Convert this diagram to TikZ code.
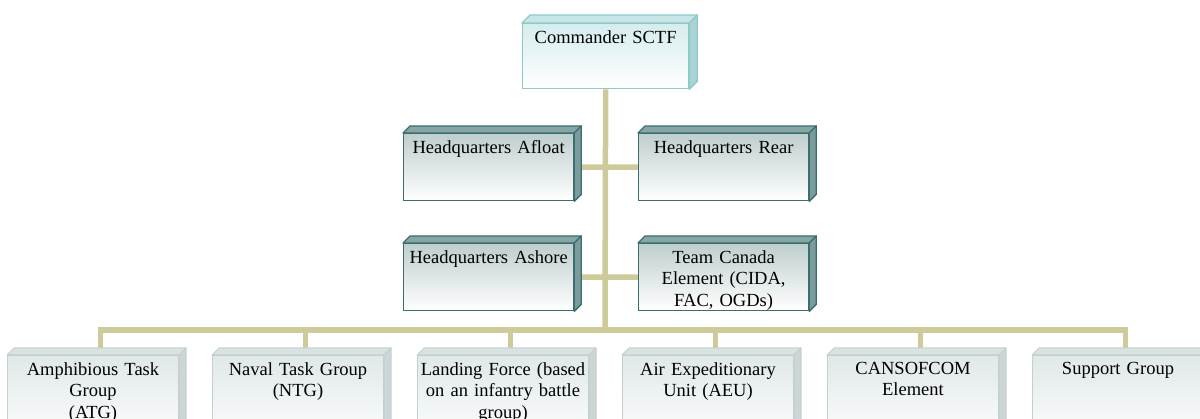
\documentclass[tikz,border=0pt]{standalone}
\usepackage{fontspec}
\setmainfont{Liberation Serif}
\usetikzlibrary{backgrounds}

\definecolor{khaki}{HTML}{CCCB99}
\definecolor{cmdline}{HTML}{8FCACA}
\definecolor{cmdface}{HTML}{C9E6E6}
\definecolor{cmdside}{HTML}{ABD3D3}
\definecolor{cmdtop}{HTML}{D6EDED}
\definecolor{midline}{HTML}{3C6E6E}
\definecolor{midface}{HTML}{86A5A5}
\definecolor{midside}{HTML}{7A9C9C}
\definecolor{midtop}{HTML}{BFCECE}
\definecolor{lowline}{HTML}{C4CFCF}
\definecolor{lowface}{HTML}{D8E2E2}
\definecolor{lowside}{HTML}{CCD6D6}
\definecolor{lowtop}{HTML}{E0E8E8}

\begin{document}
\begin{tikzpicture}[x=1pt,y=-1pt,
boxtext/.style={anchor=north, align=center, text width=180pt, inner xsep=0pt, inner ysep=7pt,
  font=\fontsize{18.5}{21.5}\selectfont},
cmdbox/.style={draw=cmdline, line width=1.3pt, top color=cmdtop, bottom color=white,
  anchor=north west, inner sep=0pt, minimum width=166pt, minimum height=65pt},
midbox/.style={draw=midline, line width=1.3pt, top color=midtop, bottom color=white,
  anchor=north west, inner sep=0pt, minimum width=170pt, minimum height=67pt},
lowbox/.style={draw=lowline, line width=1pt, top color=lowtop, bottom color=white,
  anchor=north west, inner sep=0pt, minimum width=171pt, minimum height=90pt},
link/.style={draw=khaki, line width=5.5pt}
]
  \useasboundingbox (0,0) rectangle (1200,419);
  \clip (0,0) rectangle (1200,419);

  \node[cmdbox, label={[boxtext]north:Commander SCTF}] (cmd) at (522,23) {};

  \node[midbox, label={[boxtext]north:Headquarters Afloat}] (afloat) at (403,133) {};
  \node[midbox, label={[boxtext]north:Headquarters Rear}] (rear) at (638,133) {};
  \node[midbox, label={[boxtext]north:Headquarters Ashore}] (ashore) at (403,243) {};
  \node[midbox, label={[boxtext]north:{Team Canada\\Element (CIDA,\\FAC, OGDs)}}] (canada) at (638,243) {};

  \node[lowbox, label={[boxtext]north:{Amphibious Task\\Group\\(ATG)}}] (atg) at (7,355) {};
  \node[lowbox, label={[boxtext]north:{Naval Task Group\\(NTG)}}] (ntg) at (212,355) {};
  \node[lowbox, label={[boxtext]north:{Landing Force (based\\on an infantry battle\\group)}}] (landing) at (417,355) {};
  \node[lowbox, label={[boxtext]north:{Air Expeditionary\\Unit (AEU)}}] (aeu) at (622,355) {};
  \node[lowbox, label={[boxtext]north:{CANSOFCOM\\Element}}] (sof) at (827,355) {};
  \node[lowbox, label={[boxtext]north:Support Group}] (support) at (1032,355) {};

  % depth faces of the blocks
  \foreach \n in {cmd} {
    \filldraw[draw=cmdline, fill=cmdface, line width=1.3pt, line join=round]
      (\n.north west) -- ++(8,-8) -- ([shift={(8,-8)}]\n.north east) -- (\n.north east) -- cycle;
    \filldraw[draw=cmdline, fill=cmdside, line width=1.3pt, line join=round]
      (\n.north east) -- ++(8,-8) -- ([shift={(8,-8)}]\n.south east) -- (\n.south east) -- cycle;
  }
  \foreach \n in {afloat,rear,ashore,canada} {
    \filldraw[draw=midline, fill=midface, line width=1.3pt, line join=round]
      (\n.north west) -- ++(7,-7) -- ([shift={(7,-7)}]\n.north east) -- (\n.north east) -- cycle;
    \filldraw[draw=midline, fill=midside, line width=1.3pt, line join=round]
      (\n.north east) -- ++(7,-7) -- ([shift={(7,-7)}]\n.south east) -- (\n.south east) -- cycle;
  }
  \foreach \n in {atg,ntg,landing,aeu,sof,support} {
    \filldraw[draw=lowline, fill=lowface, line width=1pt, line join=round]
      (\n.north west) -- ++(7,-7) -- ([shift={(7,-7)}]\n.north east) -- (\n.north east) -- cycle;
    \filldraw[draw=lowline, fill=lowside, line width=1pt, line join=round]
      (\n.north east) -- ++(7,-7) -- ([shift={(7,-7)}]\n.south east) -- (\n.south east) -- cycle;
  }

  \begin{pgfonlayer}{background}
    \coordinate (hub) at (605,330);
    \draw[link] (cmd.south) -- (hub)
          (afloat.east) -- (rear.west)
          (ashore.east) -- (canada.west);
    \foreach \n in {atg,ntg,landing,aeu,sof,support}
      \draw[link] ([xshift=7.5pt]\n.north) |- (hub);
  \end{pgfonlayer}
\end{tikzpicture}
\end{document}
